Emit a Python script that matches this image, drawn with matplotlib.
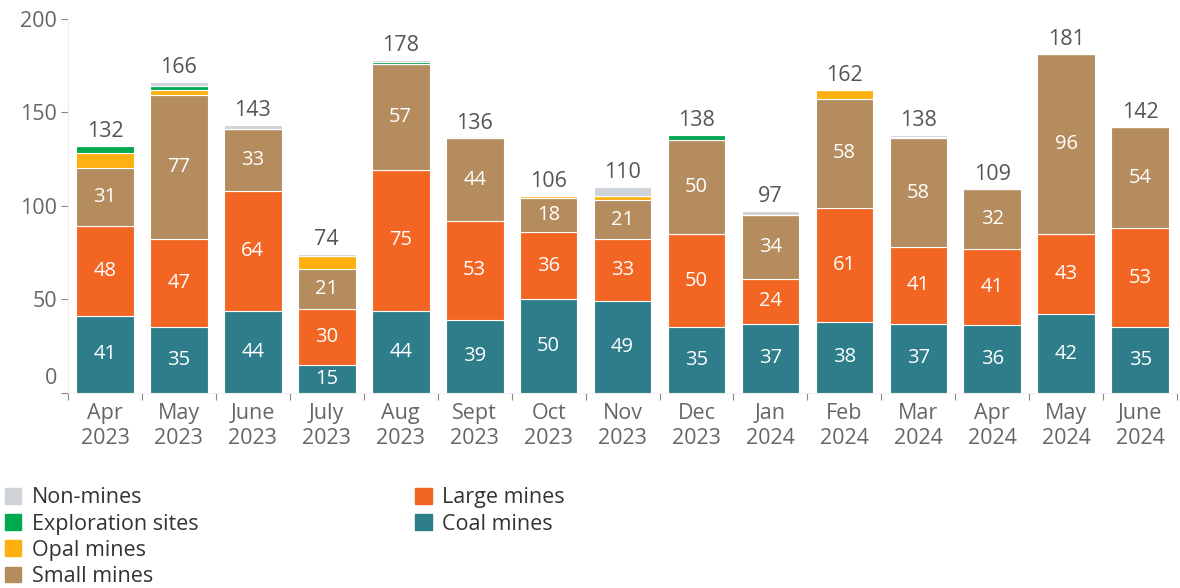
import numpy as np
import matplotlib
matplotlib.use("Agg")
import matplotlib.pyplot as plt
from matplotlib.patches import Patch
import matplotlib.transforms as mtransforms

plt.rcParams['font.family'] = ['Open Sans', 'DejaVu Sans']

months = ["Apr\n2023", "May\n2023", "June\n2023", "July\n2023", "Aug\n2023",
          "Sept\n2023", "Oct\n2023", "Nov\n2023", "Dec\n2023", "Jan\n2024",
          "Feb\n2024", "Mar\n2024", "Apr\n2024", "May\n2024", "June\n2024"]

coal_mines = [41, 35, 44, 15, 44, 39, 50, 49, 35, 37, 38, 37, 36, 42, 35]
large_mines = [48, 47, 64, 30, 75, 53, 36, 33, 50, 24, 61, 41, 41, 43, 53]
small_mines = [31, 77, 33, 21, 57, 44, 18, 21, 50, 34, 58, 58, 32, 96, 54]
opal_mines = [8, 3, 0, 7, 0, 0, 1, 2, 0, 0, 5, 0, 0, 0, 0]
exploration_sites = [4, 2, 0, 0, 1, 0, 0, 0, 3, 0, 0, 1, 0, 0, 0]
non_mines = [0, 2, 2, 1, 1, 0, 0, 5, 0, 2, 0, 1, 0, 0, 0]
totals = [132, 166, 143, 74, 178, 136, 106, 110, 138, 97, 162, 138, 109, 181, 142]

# stacking order bottom -> top
series = [
    ("Coal mines", coal_mines, "#2e7d8b", True),
    ("Large mines", large_mines, "#f26522", True),
    ("Small mines", small_mines, "#b48c5e", True),
    ("Opal mines", opal_mines, "#fdb00f", False),
    ("Exploration sites", exploration_sites, "#00a84f", False),
    ("Non-mines", non_mines, "#cfd4d8", False),
]
colors = {name: c for name, _, c, _ in series}

fig = plt.figure(figsize=(11.8, 5.88), dpi=100)
ax = fig.add_axes([0.0576, 0.332, 0.94, 0.636])

x = np.arange(len(months))
bottom = np.zeros(len(months))
for name, vals, col, show in series:
    vals = np.array(vals, dtype=float)
    ax.bar(x, vals, 0.78, bottom=bottom, color=col,
           edgecolor="white", linewidth=0.8, zorder=3)
    if show:
        for xi, b, v in zip(x, bottom, vals):
            ax.text(xi, b + v / 2, f"{int(v)}", ha="center", va="center",
                    color="white", fontsize=14.5, zorder=4)
    bottom += vals

for xi, t in zip(x, totals):
    ax.annotate(f"{t}", (xi, bottom[xi]), xytext=(0, 3), textcoords="offset points",
                ha="center", va="bottom", fontsize=15.5, color="#555555")

ax.set_xlim(-0.5, len(months) - 0.5)
ax.set_ylim(0, 200)
ax.set_yticks([0, 50, 100, 150, 200])
ax.set_xticks(x)
ax.set_xticklabels(months, fontsize=15.5, color="#666666", linespacing=1.3)
ax.set_xticks(np.arange(-0.5, len(months), 1), minor=True)
ax.tick_params(axis="x", which="major", length=0, pad=7)
ax.tick_params(axis="x", which="minor", length=5, color="#888888", width=0.8)
ax.tick_params(axis="y", length=5, color="#888888", width=0.8, labelsize=15.5,
               labelcolor="#666666", pad=3)

# the zero label sits a bit above its tick in the original
for lab in ax.get_yticklabels():
    if lab.get_text() == "0":
        lab.set_transform(lab.get_transform() +
                          mtransforms.ScaledTranslation(0, 12 / 72, fig.dpi_scale_trans))

for s in ["top", "right"]:
    ax.spines[s].set_visible(False)
ax.spines["left"].set_color("#eeeeee")
ax.spines["bottom"].set_color("#eeeeee")

left_names = ["Non-mines", "Exploration sites", "Opal mines", "Small mines"]
right_names = ["Large mines", "Coal mines"]
kw = dict(frameon=False, fontsize=15.5, handlelength=0.75, handleheight=0.75,
          handletextpad=0.5, labelspacing=0.24, borderaxespad=0, borderpad=0,
          labelcolor="#333333")
fig.legend([Patch(color=colors[n]) for n in left_names], left_names,
           loc="upper left", bbox_to_anchor=(0.004, 0.171), **kw)
fig.legend([Patch(color=colors[n]) for n in right_names], right_names,
           loc="upper left", bbox_to_anchor=(0.352, 0.171), **kw)

fig.savefig("out.png", dpi=100)
